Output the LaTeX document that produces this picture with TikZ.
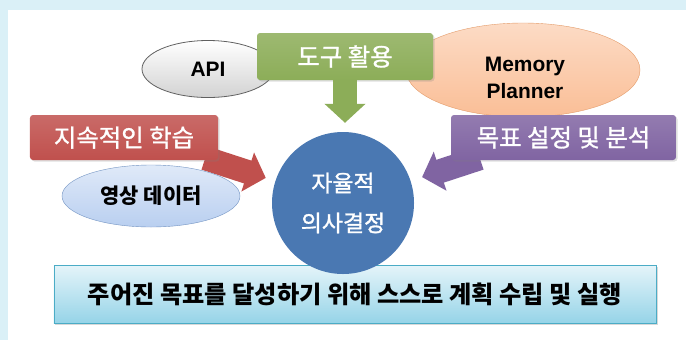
\documentclass[tikz,border=0pt]{standalone}
\definecolor{framebg}{RGB}{218, 240, 247}
\definecolor{toolgreen}{RGB}{140, 173, 88}
\definecolor{learnred}{RGB}{192, 80, 77}
\definecolor{goalpurple}{RGB}{128, 100, 162}
\definecolor{decblue}{RGB}{74, 120, 178}
\definecolor{mempeach}{RGB}{250, 190, 150}
\definecolor{memline}{RGB}{228, 155, 105}
\definecolor{vidblue}{RGB}{185, 207, 240}
\definecolor{vidline}{RGB}{115, 148, 195}
\definecolor{plancyan}{RGB}{150, 212, 232}
\definecolor{planline}{RGB}{75, 172, 198}
\usepackage{fontspec}
\setmainfont{Liberation Sans}
\newfontfamily\kr{Noto Sans CJK KR}
\newfontfamily\krmed{Noto Sans CJK KR}[FakeBold=1.2]
\usepackage{tikz}
\usetikzlibrary{shapes, arrows.meta, calc, shadows}
\pgfdeclarelayer{back}
\pgfsetlayers{back,main}

\begin{document}
\begin{tikzpicture}[x=1bp, y=-1bp,
  box/.style={rounded corners=3bp, inner sep=0pt, text=white,
    font=\krmed\fontsize{24.5}{28}\selectfont,
    drop shadow={opacity=0.25, shadow xshift=1.5bp, shadow yshift=-1.5bp}},
  blockarrow/.style={line width=24bp, -{Triangle[width=40bp, length=19bp]}}]
  \useasboundingbox (0, 0) rectangle (686, 340);

  % frame
  \begin{pgfonlayer}{back}
    \fill[framebg] (0, 0) rectangle (686, 340);
    \fill[white] (8, 10) rectangle (686, 340);
  \end{pgfonlayer}

  % ellipses at the top
  \node[ellipse, draw=gray!75!black, thick, top color=white, bottom color=gray!35,
        minimum width=132bp, minimum height=57bp, font=\bfseries\fontsize{21}{24}\selectfont]
        (api) at (208, 69) {API};
  \node[ellipse, draw=memline, top color=mempeach!55!white, bottom color=mempeach,
        minimum width=234bp, minimum height=94bp] (mem) at (523, 70) {};
  \node[font=\bfseries\fontsize{21}{27}\selectfont, align=center] (memtext)
        at ($(mem.center)+(2, 8)$) {Memory\\Planner};

  % boxes
  \node[box, top color=toolgreen!85!white, bottom color=toolgreen,
        minimum width=176bp, minimum height=47bp] (tool) at (345, 56.5) {도구 활용};
  \node[box, top color=learnred!85!white, bottom color=learnred,
        minimum width=188bp, minimum height=45bp] (learn) at (124, 137.5) {지속적인 학습};
  \node[box, top color=goalpurple!85!white, bottom color=goalpurple,
        minimum width=225bp, minimum height=45bp] (goal) at (563.5, 137.5) {목표 설정 및 분석};

  % video data
  \node[ellipse, draw=vidline, top color=vidblue!45!white, bottom color=vidblue,
        minimum width=178bp, minimum height=62bp, font=\kr\bfseries\fontsize{21}{24}\selectfont]
        (vid) at (151, 196) {영상 데이터};

  % bottom bar
  \node[rectangle, draw=planline, top color=plancyan!25!white, bottom color=plancyan,
        minimum width=602bp, minimum height=58bp, inner sep=0pt,
        font=\kr\bfseries\fontsize{24.3}{28}\selectfont,
        drop shadow={opacity=0.3, shadow xshift=1.5bp, shadow yshift=-1.5bp}]
        (plan) at (355, 294) {주어진 목표를 달성하기 위해 스스로 계획 수립 및 실행};

  % decision circle
  \node[circle, fill=decblue, minimum size=142bp, inner sep=0pt, text=white, align=center,
        font=\krmed\fontsize{23}{40}\selectfont] (dec) at (343, 203) {자율적\\의사결정};

  % block arrows into the circle
  \draw[blockarrow, toolgreen, shorten >=9bp] (tool.south) -- (tool.south |- dec.north);
  \begin{pgfonlayer}{back}
    \draw[blockarrow, learnred, shorten >=10bp] ($(learn.south east)+(-13, -2)$) -- (dec);
    \draw[blockarrow, goalpurple, shorten >=12bp] ($(goal.south west)+(29, -2)$) -- (dec);
  \end{pgfonlayer}
\end{tikzpicture}
\end{document}
